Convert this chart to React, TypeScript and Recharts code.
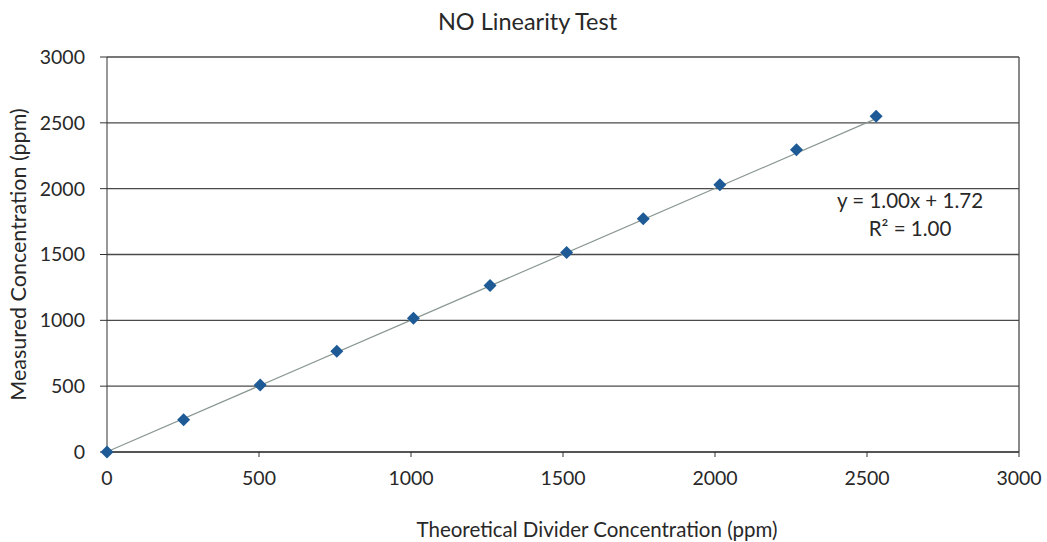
import * as React from "react";
import {
  CartesianGrid,
  ReferenceLine,
  Scatter,
  ScatterChart,
  XAxis,
  YAxis,
  Label,
} from "recharts";

// theoretical divider concentration (ppm)
const theoretical = [0, 252, 504, 756, 1008, 1260, 1512, 1764, 2016, 2268, 2530];
// measured concentration (ppm)
const measured = [0, 245, 508, 765, 1015, 1265, 1515, 1772, 2030, 2295, 2550];
// linear trendline ends, y = 1.00x + 1.72
const trendX = [0, 2530];
const trendY = [1.72, 2531.72];
const ticks = [0, 500, 1000, 1500, 2000, 2500, 3000];

const points = theoretical.map((x, i) => ({ x, y: measured[i] }));
const trend = trendX.map((x, i) => ({ x, y: trendY[i] }));

const FONT = "Lato, 'Open Sans', sans-serif";
const INK = "#282828";

function Diamond(props: any) {
  const { cx, cy } = props;
  const r = 6.5;
  return (
    <polygon
      points={`${cx},${cy - r} ${cx + r},${cy} ${cx},${cy + r} ${cx - r},${cy}`}
      fill="#1d5a96"
    />
  );
}

const NoDot = () => <g />;

export default function App() {
  return (
    <div
      style={{
        position: "absolute",
        left: 0,
        top: 0,
        width: 1047,
        height: 542,
        background: "#fff",
        fontFamily: FONT,
      }}
    >
      <div
        style={{
          position: "absolute",
          left: 0,
          width: 1047,
          top: 7,
          textAlign: "center",
          fontSize: 23.5,
          color: INK,
          paddingLeft: 8,
          boxSizing: "border-box",
        }}
      >
        NO Linearity Test
      </div>
      <ScatterChart
        width={1047}
        height={542}
        margin={{ top: 57, right: 28, bottom: 30, left: 50 }}
      >
        <CartesianGrid vertical={false} stroke="#4a4a4a" strokeWidth={1.3} />
        <XAxis
          type="number"
          dataKey="x"
          domain={[0, 3000]}
          ticks={ticks}
          height={60}
          stroke="#333"
          tickSize={5}
          tickMargin={14}
          tick={{ fill: INK, fontSize: 19.5, fontFamily: FONT }}
        >
          <Label
            value="Theoretical Divider Concentration (ppm)"
            position="insideBottom"
            offset={0}
            dx={34}
            dy={25}
            style={{ fill: INK, fontSize: 20.5, fontFamily: FONT }}
          />
        </XAxis>
        <YAxis
          type="number"
          dataKey="y"
          domain={[0, 3000]}
          ticks={ticks}
          width={57}
          stroke="#333"
          tickSize={7}
          tickMargin={15}
          tick={{ fill: INK, fontSize: 19.5, fontFamily: FONT }}
        >
          <Label
            value="Measured Concentration (ppm)"
            angle={-90}
            position="insideLeft"
            offset={-20}
            dx={-12}
            style={{ textAnchor: "middle", fill: INK, fontSize: 21.5, fontFamily: FONT }}
          />
        </YAxis>
        <ReferenceLine x={3000} stroke="#4a4a4a" strokeWidth={1.3} />
        <Scatter
          data={trend}
          line={{ stroke: "#8a9890", strokeWidth: 1.2 }}
          shape={NoDot}
          isAnimationActive={false}
        />
        <Scatter data={points} shape={Diamond} isAnimationActive={false} />
      </ScatterChart>
      <div
        style={{
          position: "absolute",
          left: 810,
          width: 200,
          top: 186,
          textAlign: "center",
          fontSize: 20.5,
          lineHeight: "28px",
          color: INK,
        }}
      >
        y = 1.00x + 1.72
        <br />
        R² = 1.00
      </div>
    </div>
  );
}
